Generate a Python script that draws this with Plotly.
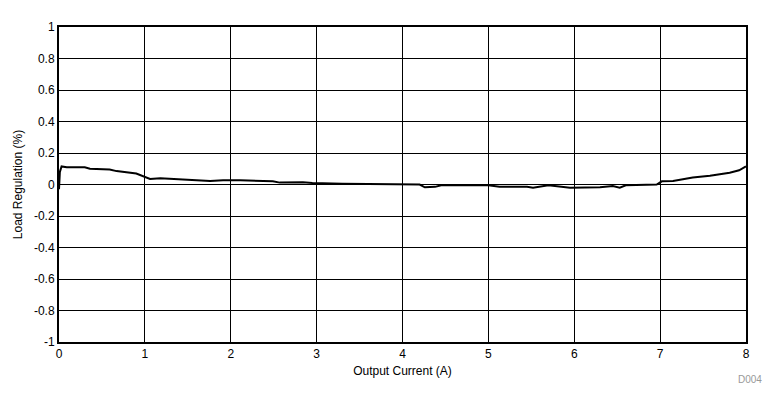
import plotly.graph_objects as go

current_a = [0.0, 0.01, 0.03, 0.09, 0.30, 0.36, 0.59, 0.67, 0.90, 1.00, 1.06, 1.18, 1.49,
             1.76, 1.91, 2.11, 2.49, 2.57, 2.84, 2.95, 3.3, 3.8, 4.2, 4.26, 4.38, 4.45,
             5.0, 5.13, 5.45, 5.52, 5.6, 5.7, 5.95, 6.3, 6.45, 6.53, 6.6, 6.96, 7.02,
             7.15, 7.38, 7.58, 7.81, 7.92, 8.0]
load_reg = [-0.03, 0.08, 0.115, 0.11, 0.11, 0.10, 0.095, 0.085, 0.07, 0.045, 0.035, 0.04,
            0.03, 0.022, 0.027, 0.027, 0.02, 0.012, 0.015, 0.01, 0.005, 0.003, 0.0, -0.018,
            -0.015, -0.005, -0.005, -0.015, -0.015, -0.02, -0.012, -0.005, -0.02, -0.018,
            -0.01, -0.02, -0.005, 0.0, 0.02, 0.022, 0.045, 0.055, 0.075, 0.09, 0.115]

x_ticks = [0, 1, 2, 3, 4, 5, 6, 7, 8]
y_ticks = [-1, -0.8, -0.6, -0.4, -0.2, 0, 0.2, 0.4, 0.6, 0.8, 1]
y_tick_text = ["-1", "-0.8", "-0.6", "-0.4", "-0.2", "0", "0.2", "0.4", "0.6", "0.8", "1"]

fig = go.Figure()
fig.add_trace(go.Scatter(x=current_a, y=load_reg, mode="lines",
                         line=dict(color="black", width=2), showlegend=False))

font = dict(family="Liberation Sans, Arial, sans-serif", size=12, color="black")
fig.update_layout(
    width=771, height=397,
    margin=dict(l=51, r=33, t=19, b=63, autoexpand=False),
    paper_bgcolor="white", plot_bgcolor="white",
    font=font,
    xaxis=dict(range=[0, 8], tickvals=x_ticks, showgrid=True, gridcolor="black", gridwidth=1,
               showline=True, linecolor="black", linewidth=2, mirror=True, zeroline=False,
               ticks="", title=dict(text="Output Current (A)", standoff=6, font=font),
               tickfont=font),
    yaxis=dict(range=[-1, 1], tickvals=y_ticks, ticktext=y_tick_text, showgrid=True,
               gridcolor="black", gridwidth=1, showline=True, linecolor="black", linewidth=2,
               mirror=True, zeroline=False, ticks="",
               title=dict(text="Load Regulation (%)", standoff=9, font=font), tickfont=font),
    annotations=[dict(text="D004", xref="paper", yref="paper", x=1.026, y=-0.118,
                      xanchor="right", yanchor="middle", showarrow=False,
                      font=dict(family="Liberation Sans, Arial, sans-serif", size=10, color="#999999"))],
)
fig.write_html("out.html")
